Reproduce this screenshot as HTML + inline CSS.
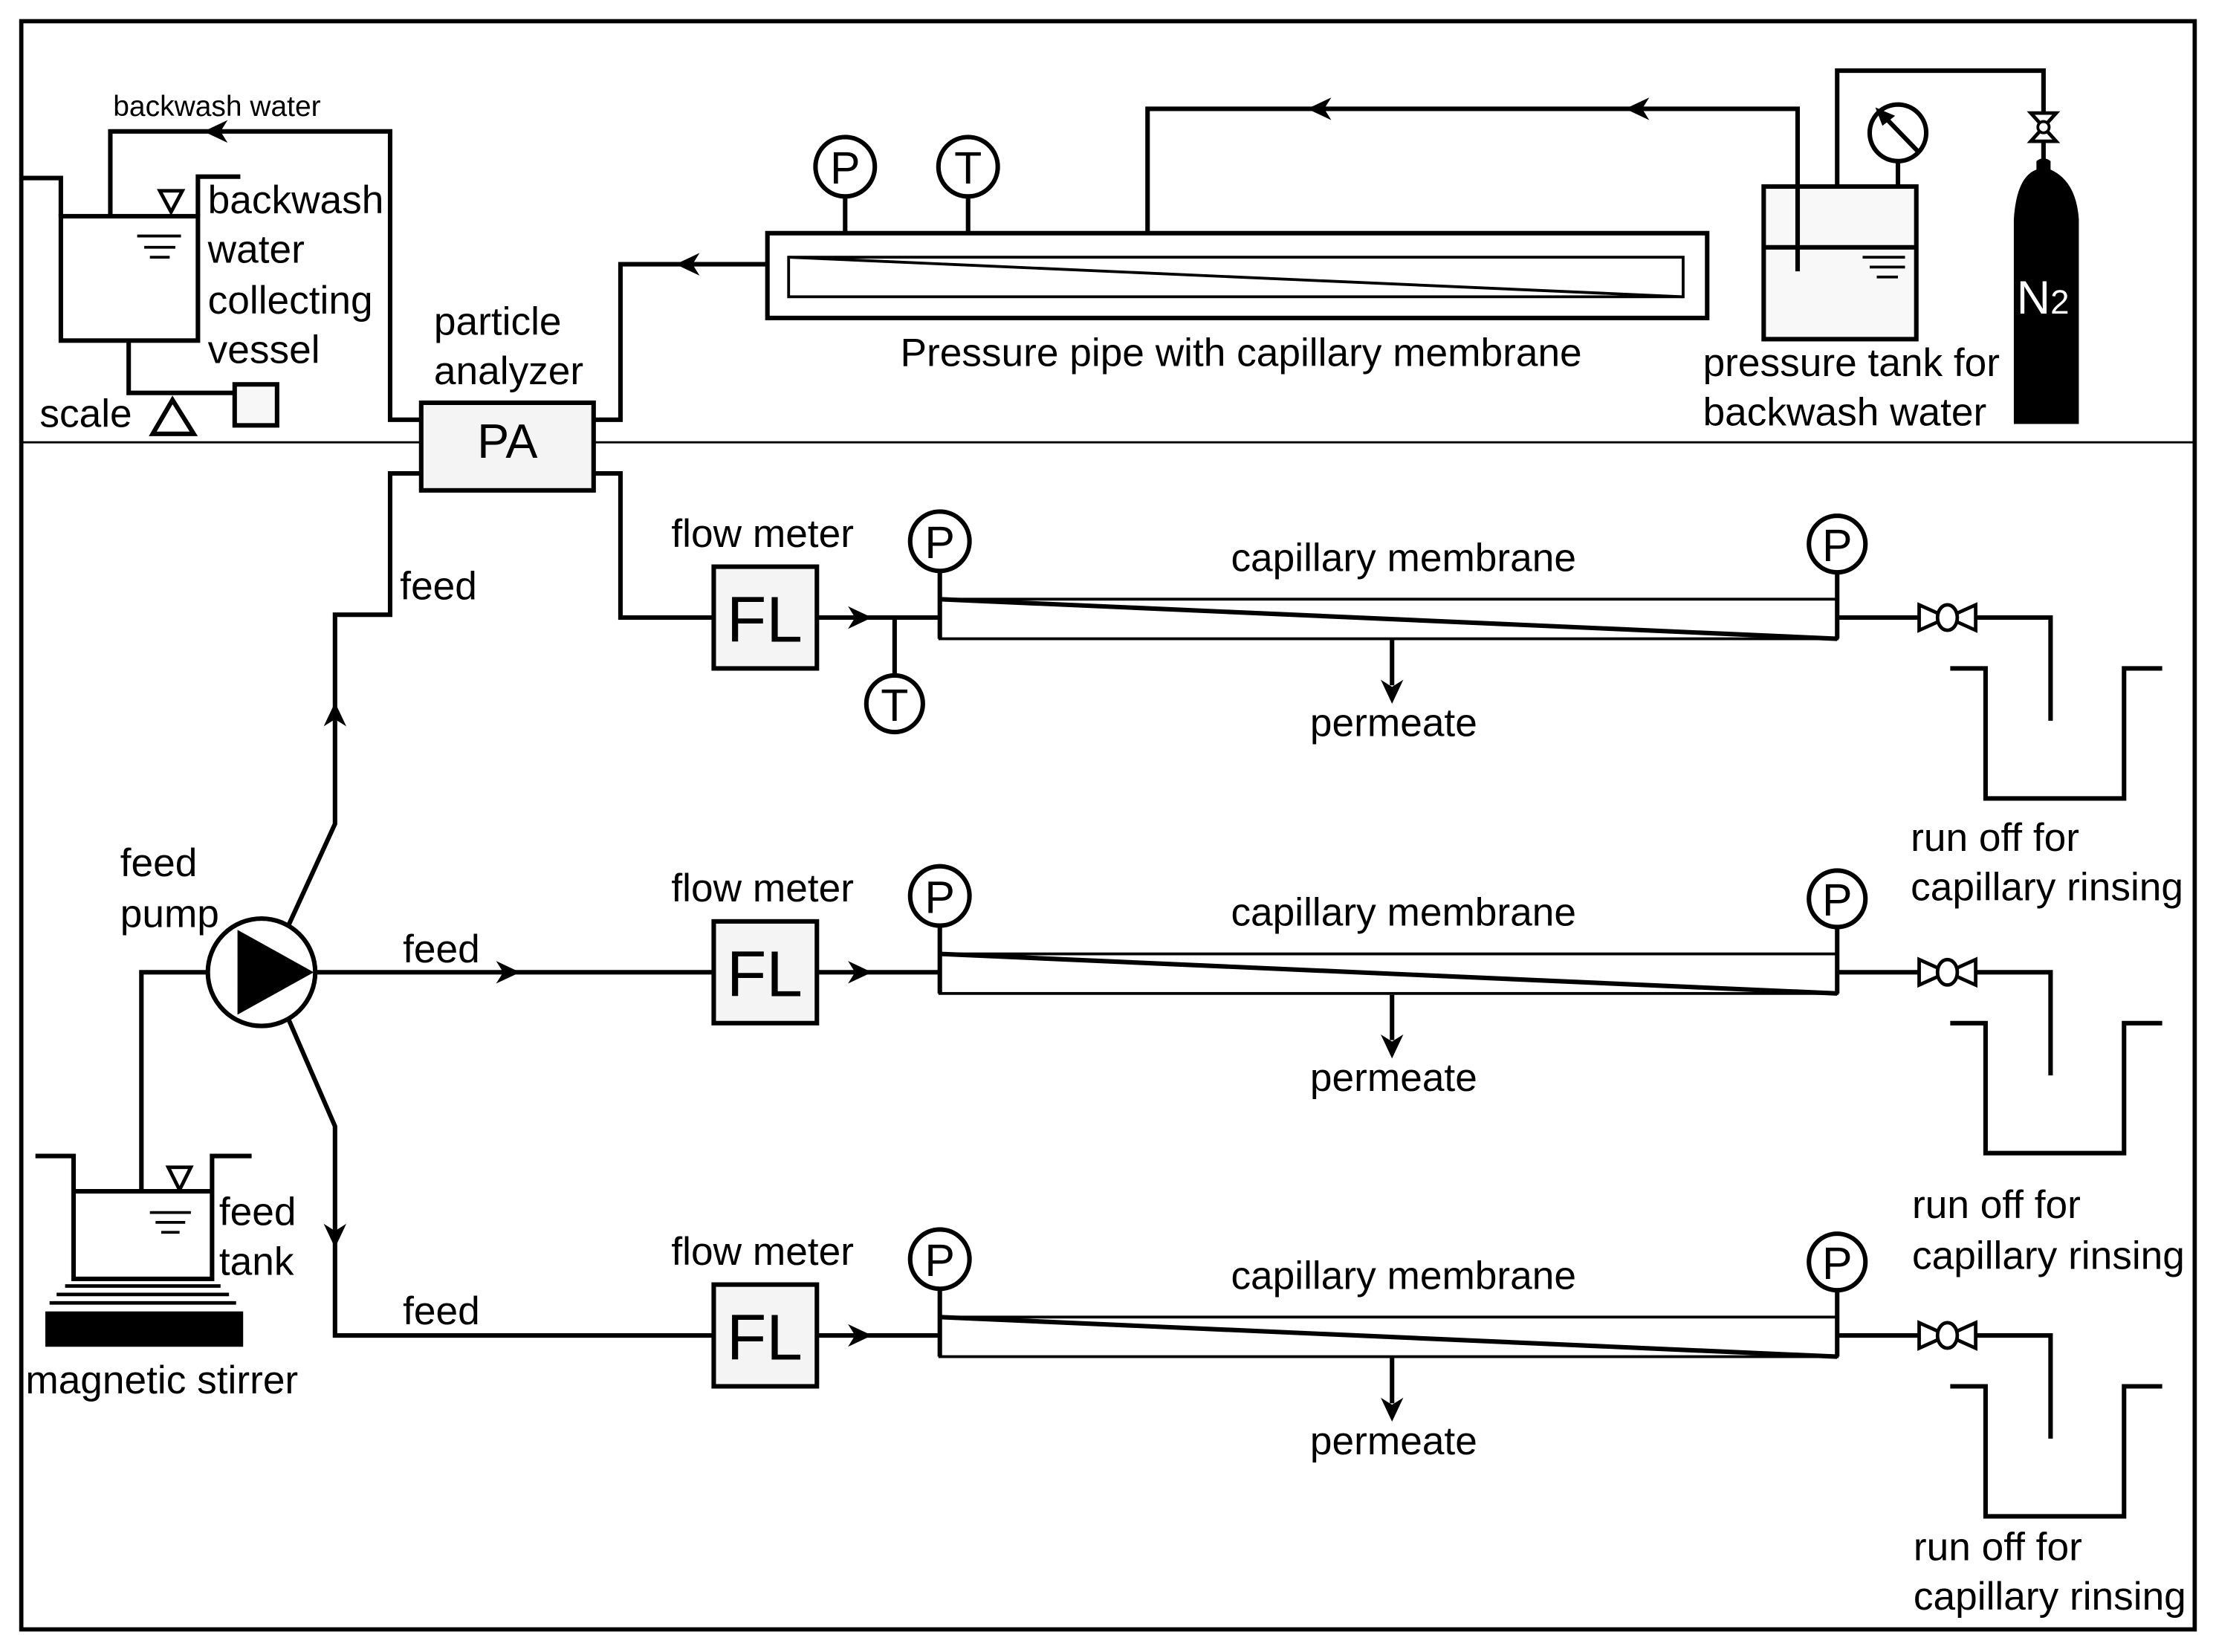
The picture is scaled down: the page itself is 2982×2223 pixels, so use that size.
<!DOCTYPE html>
<html><head><meta charset="utf-8"><style>html,body{margin:0;padding:0;background:#fff}svg{display:block}text{font-family:"Liberation Sans",Arial,sans-serif}</style></head>
<body>
<svg width="2982" height="2223" viewBox="0 0 1568 1169" xmlns="http://www.w3.org/2000/svg">
<defs>
<g id="ar"><path d="M0,0 L-17,-8 L-12,0 L-17,8 Z" fill="#000"/></g>
</defs>
<rect x="15" y="15" width="1538" height="1138" fill="#fff" stroke="#000" stroke-width="3"/>
<line x1="15" y1="313" x2="1553" y2="313" stroke="#000" stroke-width="1.5"/>
<g fill="none" stroke="#000" stroke-width="3.2">
<polyline points="15,126 43,126 43,153"/>
<rect x="43" y="153" width="97" height="88" fill="#fff"/>
<polyline points="140,153 140,125 170,125"/>
<polyline points="78,153 78,93 276,93 276,297 298,297"/>
<polyline points="91,241 91,278 166,278"/>
<rect x="166" y="272" width="30" height="29" fill="#f7f7f7"/>
<polygon points="122,283 108,307 137,307"/>
<polygon points="113,135 129,135 121,150" stroke-width="2.5"/>
</g>
<g stroke="#000" stroke-width="2">
<line x1="97" y1="167" x2="128" y2="167"/><line x1="102" y1="175" x2="124" y2="175"/><line x1="106" y1="182" x2="120" y2="182"/>
</g>
<use href="#ar" transform="translate(144,93) rotate(180)"/>
<text x="80" y="82" font-size="20.5">backwash water</text>
<g font-size="28">
<text x="147" y="151">backwash</text><text x="147" y="186">water</text><text x="147" y="222">collecting</text><text x="147" y="257">vessel</text>
<text x="28" y="302">scale</text>
<text x="307" y="237">particle</text><text x="307" y="272">analyzer</text>
<text x="637" y="259">Pressure pipe with capillary membrane</text>
<text x="1205" y="266">pressure tank for</text><text x="1205" y="301">backwash water</text>
</g>
<g fill="none" stroke="#000" stroke-width="3.2">
<polyline points="420,297 439,297 439,187 543,187"/>
<rect x="543" y="165" width="665" height="60" fill="#fff"/>
<rect x="558" y="182" width="633" height="28" stroke-width="2"/>
<line x1="558" y1="182" x2="1191" y2="210" stroke-width="2"/>
<line x1="598" y1="140" x2="598" y2="165"/>
<line x1="685" y1="140" x2="685" y2="165"/>
<circle cx="598" cy="118" r="21" fill="#fff"/>
<circle cx="685" cy="118" r="21" fill="#fff"/>
<polyline points="812,165 812,77 1272,77 1272,192"/>
<rect x="1248" y="132" width="108" height="108" fill="#f8f8f8"/>
<line x1="1248" y1="175" x2="1356" y2="175"/>
<line x1="1272" y1="132" x2="1272" y2="192"/>
<line x1="1343" y1="115" x2="1343" y2="132"/>
<circle cx="1343" cy="94" r="20" fill="#fff"/>
<line x1="1358" y1="108" x2="1330" y2="79"/>
<polyline points="1300,132 1300,50 1446,50 1446,80"/>
<line x1="1446" y1="100" x2="1446" y2="118"/>
<polygon points="1437,80 1455,80 1437,100 1455,100" stroke-width="2.5"/>
</g>
<path d="M1327,76 L1341,82 L1332,89 Z" fill="#000"/>
<circle cx="1446" cy="90" r="4" fill="#fff" stroke="#000" stroke-width="2"/>
<g stroke="#000" stroke-width="2"><line x1="1318" y1="182" x2="1348" y2="182"/><line x1="1323" y1="189" x2="1348" y2="189"/><line x1="1328" y1="196" x2="1343" y2="196"/></g>
<path d="M1425,300 L1425,155 Q1427,125 1441,120 L1441,114 Q1446,110 1451,114 L1451,120 Q1469,128 1471,155 L1471,300 Z" fill="#000"/>
<text x="1427" y="222" font-size="33" fill="#fff">N<tspan font-size="24">2</tspan></text>
<use href="#ar" transform="translate(478,187) rotate(180)"/>
<use href="#ar" transform="translate(925,77) rotate(180)"/>
<use href="#ar" transform="translate(1150,77) rotate(180)"/>
<g font-size="32" text-anchor="middle"><text x="598" y="130">P</text><text x="685" y="130">T</text></g>
<rect x="298" y="285" width="122" height="62" fill="#f4f4f4" stroke="#000" stroke-width="3.2"/>
<text x="359" y="324" font-size="34" text-anchor="middle">PA</text>
<g fill="none" stroke="#000" stroke-width="3.2">
<polyline points="298,335 276,335 276,435 237,435 237,583 204,655"/>
<polyline points="420,335 439,335 439,437 505,437"/>
<polyline points="204,721 237,797 237,945 505,945"/>
<line x1="223" y1="688" x2="505" y2="688"/>
<polyline points="147,688 100,688 100,843"/>
<circle cx="185" cy="688" r="38" fill="#fff"/>
<polyline points="25,818 52,818 52,905 150,905 150,818 178,818"/>
<line x1="52" y1="843" x2="150" y2="843"/>
<polygon points="119,826 135,826 127,842" stroke-width="2.5"/>
</g>
<polygon points="168,658 168,718 222,688" fill="#000"/>
<g stroke="#000" stroke-width="2"><line x1="106" y1="858" x2="135" y2="858"/><line x1="110" y1="865" x2="131" y2="865"/><line x1="114" y1="872" x2="127" y2="872"/></g>
<g stroke="#000" stroke-width="2.5"><line x1="46" y1="910" x2="156" y2="910"/><line x1="40" y1="916" x2="162" y2="916"/><line x1="35" y1="922" x2="167" y2="922"/></g>
<rect x="32" y="928" width="140" height="25" fill="#000"/>
<use href="#ar" transform="translate(237,497) rotate(-90)"/>
<use href="#ar" transform="translate(368,688)"/>
<use href="#ar" transform="translate(237,883) rotate(90)"/>
<g font-size="28">
<text x="283" y="424">feed</text><text x="285" y="681">feed</text><text x="285" y="937">feed</text>
<text x="85" y="620">feed</text><text x="85" y="656">pump</text>
<text x="155" y="867">feed</text><text x="155" y="902">tank</text>
<text x="18" y="986">magnetic stirrer</text>
</g>
<g id="row1">
<g fill="none" stroke="#000" stroke-width="3.2">
<line x1="578" y1="437" x2="665" y2="437"/>
<rect x="665" y="424" width="635" height="28" stroke-width="2" fill="#fff"/>
<line x1="665" y1="424" x2="1300" y2="452"/>
<line x1="665" y1="404" x2="665" y2="452"/>
<line x1="1300" y1="406" x2="1300" y2="452"/>
<polyline points="1300,437 1358,437"/>
<polyline points="1398,437 1451,437 1451,510"/>
<polyline points="1380,473 1405,473 1405,565 1503,565 1503,473 1530,473"/>
<polygon points="1358,428 1358,446 1398,428 1398,446" stroke-width="2.5"/>
<rect x="505" y="401" width="73" height="72" fill="#f4f4f4"/>
<circle cx="665" cy="383" r="21" fill="#fff"/>
<circle cx="1300" cy="385" r="20" fill="#fff"/>
<line x1="985" y1="453" x2="985" y2="485"/>
</g>
<ellipse cx="1378" cy="437" rx="7" ry="9" fill="#fff" stroke="#000" stroke-width="2.5"/>
<use href="#ar" transform="translate(617,437)"/>
<use href="#ar" transform="translate(985,498) rotate(90)"/>
<text x="541" y="454" font-size="46" text-anchor="middle">FL</text>
<g font-size="32" text-anchor="middle"><text x="665" y="395">P</text><text x="1300" y="397">P</text></g>
<g font-size="28"><text x="475" y="387">flow meter</text><text x="871" y="404">capillary membrane</text><text x="927" y="521">permeate</text></g>
</g>
<use href="#row1" transform="translate(0,251)"/>
<use href="#row1" transform="translate(0,508)"/>
<g fill="none" stroke="#000" stroke-width="3.2">
<line x1="633" y1="437" x2="633" y2="478"/>
<circle cx="633" cy="498" r="20" fill="#fff"/>
</g>
<text x="633" y="510" font-size="32" text-anchor="middle">T</text>
<g font-size="28">
<text x="1352" y="602">run off for</text><text x="1352" y="637">capillary rinsing</text>
<text x="1353" y="862">run off for</text><text x="1353" y="898">capillary rinsing</text>
<text x="1354" y="1104">run off for</text><text x="1354" y="1139">capillary rinsing</text>
</g>
</svg>
</body></html>
